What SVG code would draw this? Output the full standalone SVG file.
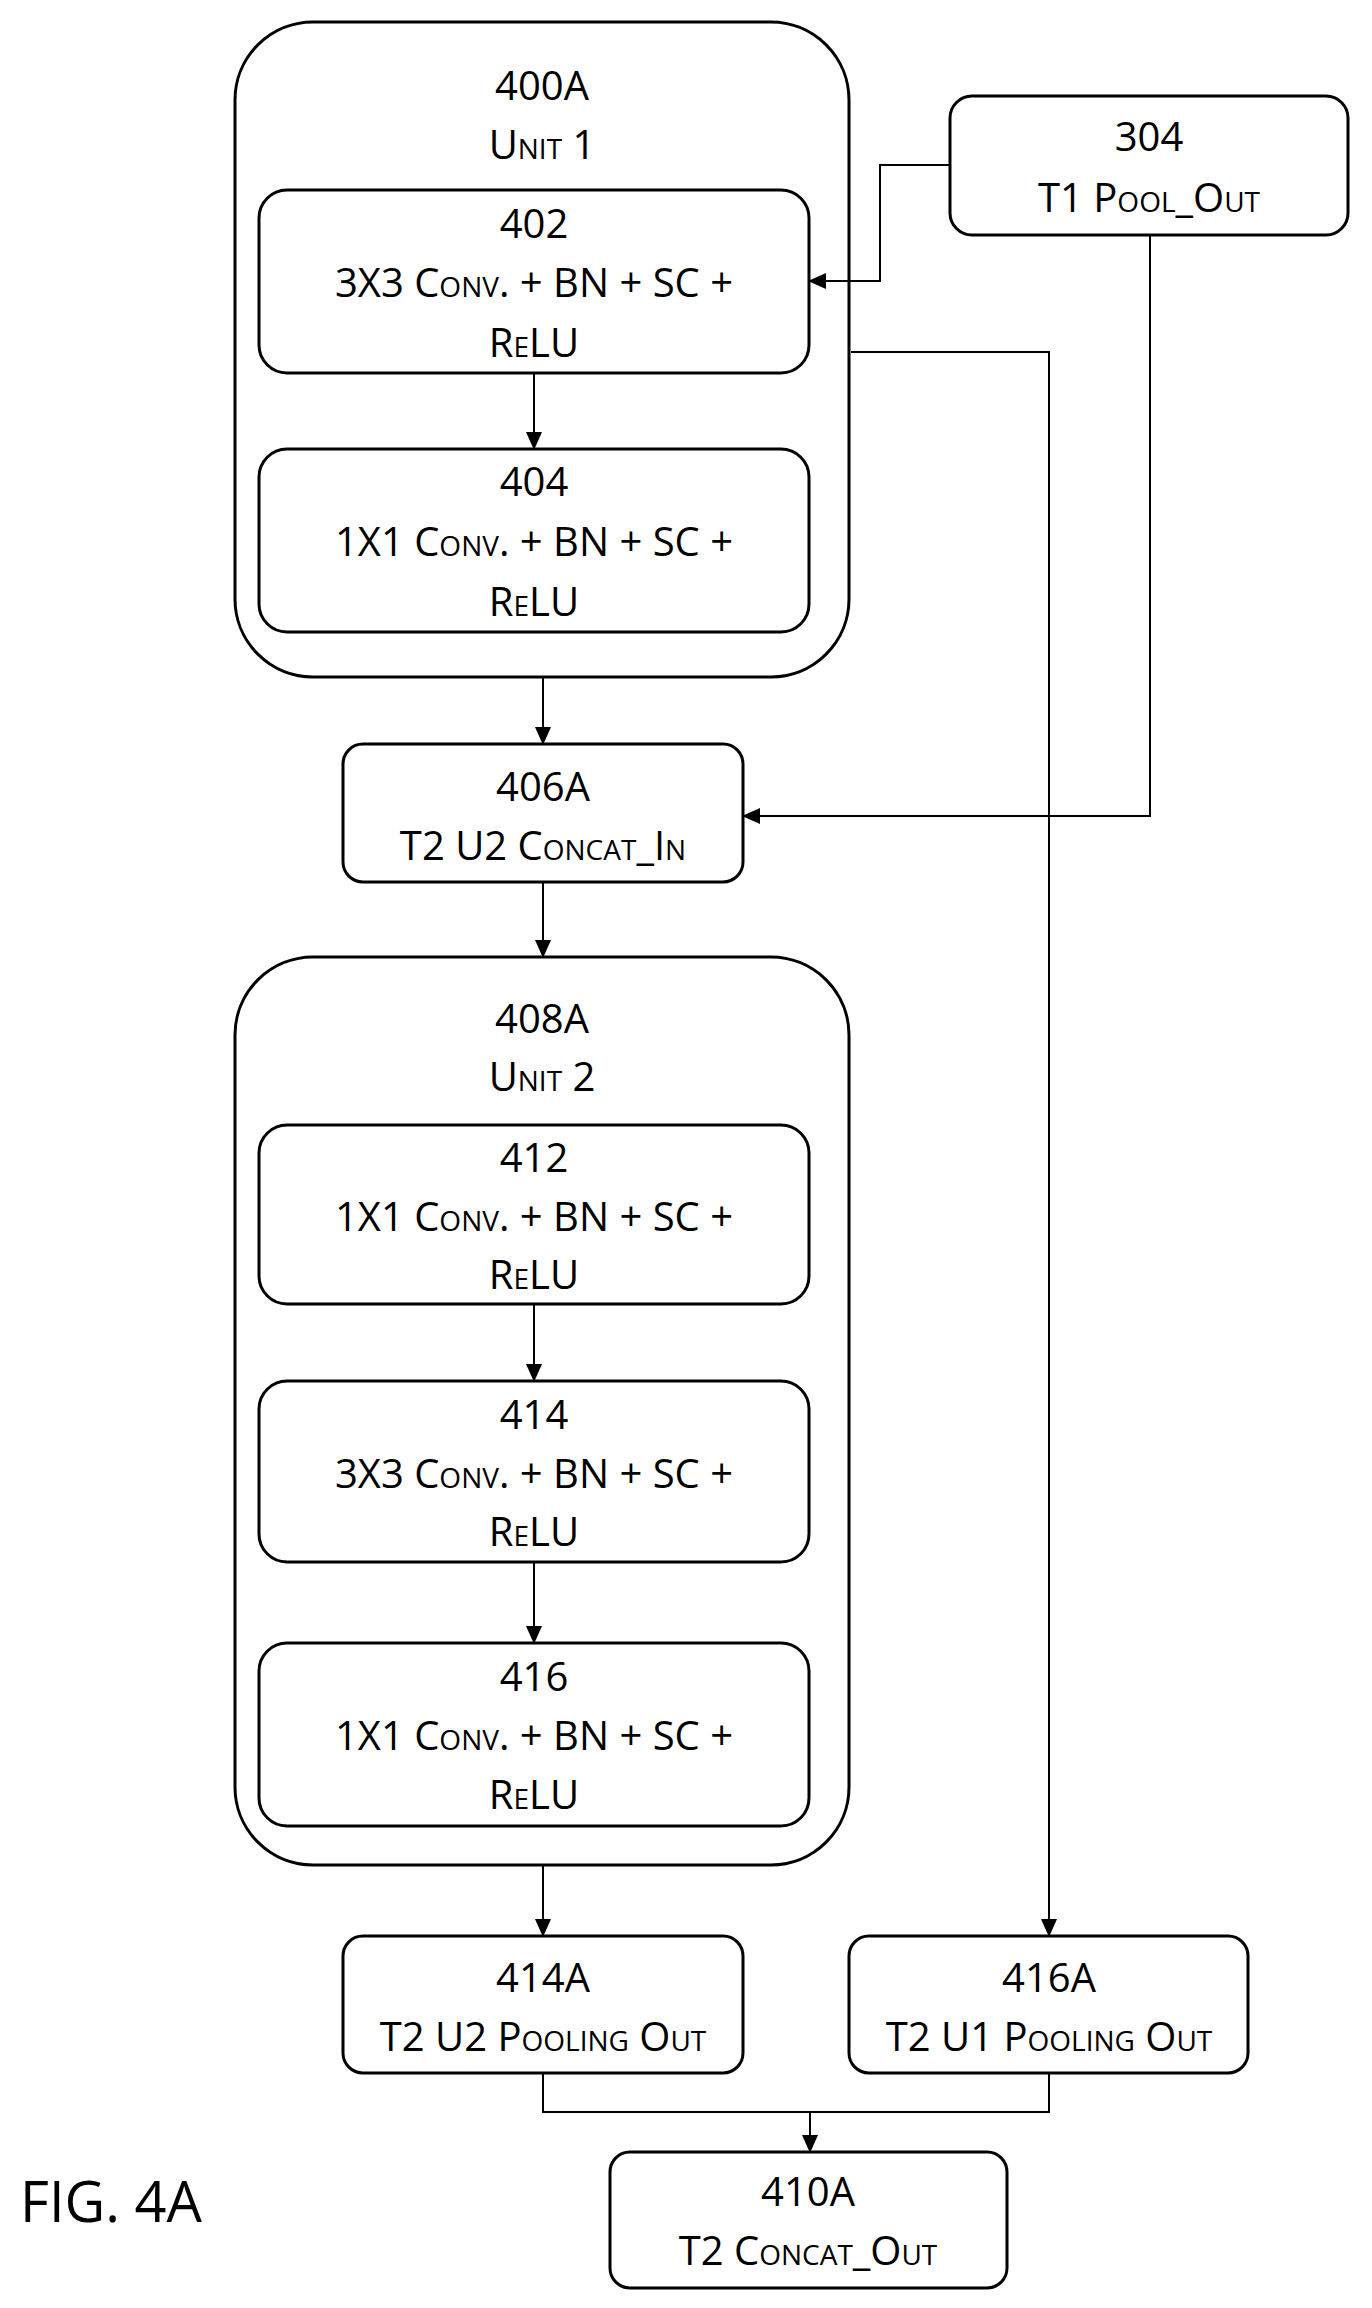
<svg xmlns="http://www.w3.org/2000/svg" width="1372" height="2308" viewBox="0 0 1372 2308">
<defs>
<marker id="ah" markerUnits="userSpaceOnUse" markerWidth="18" markerHeight="16" refX="17" refY="8" orient="auto"><path d="M0,0 L18,8 L0,16 Z" fill="#000"/></marker>
<style>
rect{fill:#fff;stroke:#000;stroke-width:3}
text{font-family:"Open Sans","DejaVu Sans",sans-serif;font-size:40px;text-anchor:middle;fill:#000;font-variant:small-caps}
.c{fill:none;stroke:#000;stroke-width:2}
</style>
</defs>
<rect width="1372" height="2308" style="stroke:none"/>
<g id="unit1"><rect x="235" y="22" width="614" height="655" rx="78"/><text x="542" y="100">400A</text><text x="542" y="159">Unit 1</text></g>
<g id="n402"><rect x="259" y="190" width="550" height="183" rx="28"/><text x="534" y="238">402</text><text x="534" y="297">3X3 Conv. + BN + SC +</text><text x="534" y="357">ReLU</text></g>
<g id="n404"><rect x="259" y="449" width="550" height="183" rx="28"/><text x="534" y="496">404</text><text x="534" y="556">1X1 Conv. + BN + SC +</text><text x="534" y="616">ReLU</text></g>
<g id="n304"><rect x="950" y="96" width="398" height="139" rx="22"/><text x="1149" y="151">304</text><text x="1149" y="212">T1 Pool_Out</text></g>
<g id="n406A"><rect x="343" y="744" width="400" height="138" rx="20"/><text x="543" y="801">406A</text><text x="543" y="860">T2 U2 Concat_In</text></g>
<g id="unit2"><rect x="235" y="957" width="614" height="908" rx="78"/><text x="542" y="1033">408A</text><text x="542" y="1091">Unit 2</text></g>
<g id="n412"><rect x="259" y="1125" width="550" height="179" rx="28"/><text x="534" y="1172">412</text><text x="534" y="1231">1X1 Conv. + BN + SC +</text><text x="534" y="1289">ReLU</text></g>
<g id="n414"><rect x="259" y="1381" width="550" height="181" rx="28"/><text x="534" y="1429">414</text><text x="534" y="1488">3X3 Conv. + BN + SC +</text><text x="534" y="1546">ReLU</text></g>
<g id="n416"><rect x="259" y="1643" width="550" height="183" rx="28"/><text x="534" y="1691">416</text><text x="534" y="1750">1X1 Conv. + BN + SC +</text><text x="534" y="1809">ReLU</text></g>
<g id="n414A"><rect x="343" y="1936" width="400" height="137" rx="20"/><text x="543" y="1992">414A</text><text x="543" y="2051">T2 U2 Pooling Out</text></g>
<g id="n416A"><rect x="849" y="1936" width="399" height="137" rx="20"/><text x="1049" y="1992">416A</text><text x="1049" y="2051">T2 U1 Pooling Out</text></g>
<g id="n410A"><rect x="610" y="2152" width="397" height="136" rx="20"/><text x="808" y="2206">410A</text><text x="808" y="2265">T2 Concat_Out</text></g>
<text x="20" y="2222" style="text-anchor:start;font-size:56px;font-variant:normal">FIG. 4A</text>
<g id="connectors">
<path class="c" d="M534,373 V449" marker-end="url(#ah)"/>
<path class="c" d="M543,677 V744" marker-end="url(#ah)"/>
<path class="c" d="M543,882 V957" marker-end="url(#ah)"/>
<path class="c" d="M534,1304 V1381" marker-end="url(#ah)"/>
<path class="c" d="M534,1562 V1643" marker-end="url(#ah)"/>
<path class="c" d="M543,1865 V1936" marker-end="url(#ah)"/>
<path class="c" d="M950,165 H880 V281 H809" marker-end="url(#ah)"/>
<path class="c" d="M1150,235 V816 H743" marker-end="url(#ah)"/>
<path class="c" d="M851,352 H1049 V1936" marker-end="url(#ah)"/>
<path class="c" d="M543,2073 V2112 H1049 V2073"/>
<path class="c" d="M810,2112 V2152" marker-end="url(#ah)"/>
</g>
</svg>
